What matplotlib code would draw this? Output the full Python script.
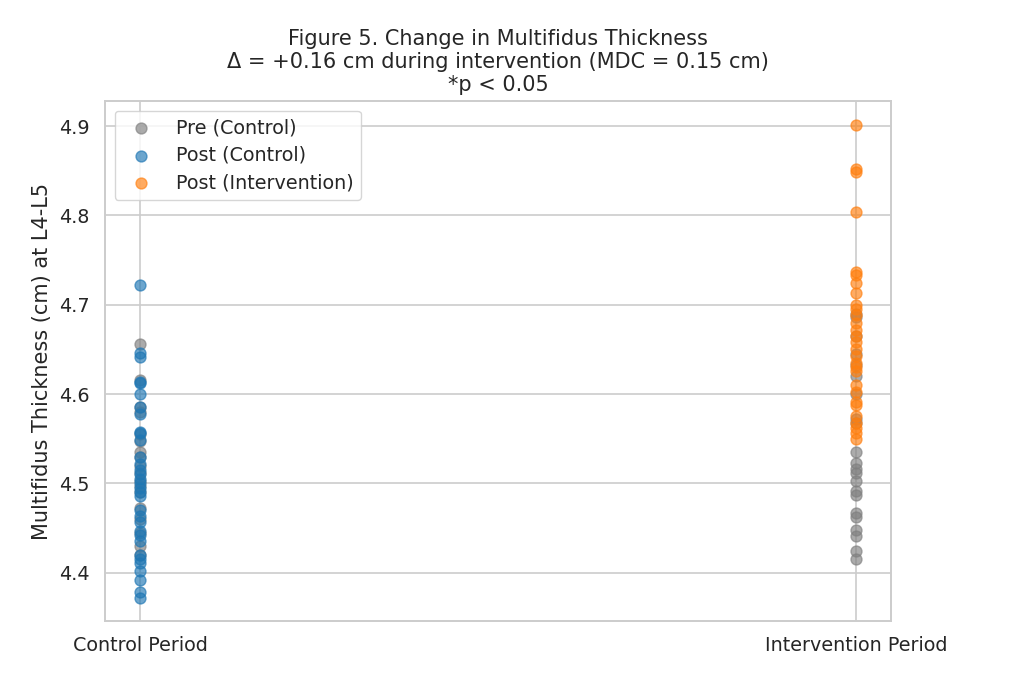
import matplotlib
matplotlib.use("Agg")
import matplotlib.pyplot as plt
import seaborn as sns
import numpy as np

# values (cm)
periods = ["Control Period", "Intervention Period"]

pre_control = [4.656, 4.616, 4.586, 4.580, 4.555, 4.548, 4.535, 4.529,
               4.519, 4.512, 4.503, 4.497, 4.490, 4.472, 4.460, 4.444,
               4.430, 4.420]
post_control = [4.722, 4.646, 4.642, 4.614, 4.612, 4.600, 4.585, 4.578,
                4.558, 4.556, 4.549, 4.530, 4.522, 4.515, 4.510, 4.505,
                4.500, 4.495, 4.490, 4.486, 4.470, 4.463, 4.457, 4.447,
                4.442, 4.435, 4.420, 4.415, 4.411, 4.402, 4.392, 4.378,
                4.372]
pre_intervention = [4.690, 4.686, 4.665, 4.645, 4.632, 4.620, 4.600, 4.572,
                    4.568, 4.535, 4.523, 4.516, 4.512, 4.503, 4.491, 4.487,
                    4.467, 4.462, 4.448, 4.441, 4.424, 4.415]
post_intervention = [4.901, 4.852, 4.849, 4.804, 4.737, 4.733, 4.724, 4.713,
                     4.700, 4.695, 4.688, 4.680, 4.672, 4.665, 4.658, 4.650,
                     4.643, 4.635, 4.630, 4.626, 4.610, 4.602, 4.591, 4.588,
                     4.575, 4.568, 4.562, 4.556, 4.550]

sns.set_style("whitegrid")
plt.rcParams["font.family"] = ["DejaVu Sans"]
plt.rcParams["grid.linewidth"] = 1.2
plt.rcParams["axes.linewidth"] = 1.4

fig = plt.figure(figsize=(10.17, 6.9), dpi=100)
ax = fig.add_axes([0.1032, 0.1, 0.7729, 0.7536])

gray, blue, orange = "#7f7f7f", "#1f77b4", "#ff7f0e"
s, a = 62, 0.65

ax.scatter([0] * len(pre_control), pre_control, s=s, color=gray, alpha=a,
           label="Pre (Control)")
ax.scatter([0] * len(post_control), post_control, s=s, color=blue, alpha=a,
           label="Post (Control)")
ax.scatter([1] * len(pre_intervention), pre_intervention, s=s, color=gray,
           alpha=a)
ax.scatter([1] * len(post_intervention), post_intervention, s=s,
           color=orange, alpha=a, label="Post (Intervention)")

ax.set_xticks([0, 1])
ax.set_xticklabels(periods, fontsize=13.75)
ax.set_xlim(-0.049, 1.049)
ax.set_ylim(4.346, 4.928)
ax.set_yticks(np.arange(4.4, 4.91, 0.1))
ax.tick_params(axis="both", labelsize=13.75, pad=7.5)
ax.set_ylabel("Multifidus Thickness (cm) at L4-L5", fontsize=15, labelpad=5)
ax.set_title("Figure 5. Change in Multifidus Thickness\n"
             "\u0394 = +0.16 cm during intervention (MDC = 0.15 cm)\n"
             "*p < 0.05", fontsize=15, pad=7)
ax.legend(loc="upper left", fontsize=13.75, labelspacing=0.45)

plt.savefig("out.png")
